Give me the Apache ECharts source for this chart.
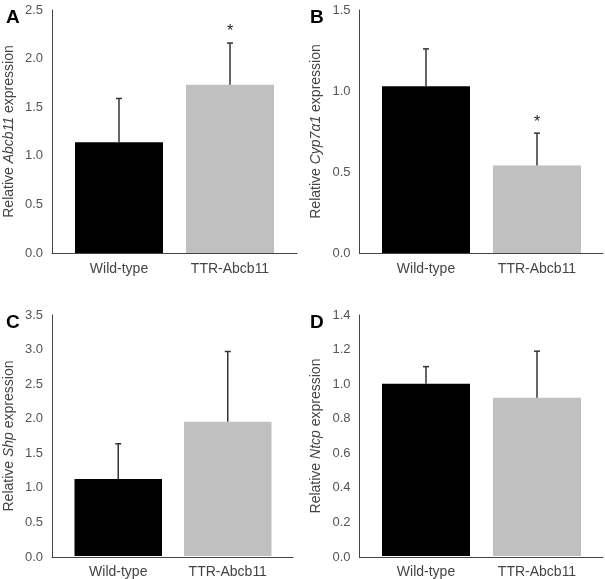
<!DOCTYPE html>
<html>
<head>
<meta charset="utf-8">
<script src="https://cdn.jsdelivr.net/npm/echarts@6/dist/echarts.min.js"></script>
<style>html,body{margin:0;padding:0;background:#fff}#c{width:605px;height:579px}</style>
</head>
<body>
<div id="c"></div>
<script>
// ---- data ----
const categories = ['Wild-type', 'TTR-Abcb11'];
const barColors = ['#000000', '#c0c0c0'];

const abcb11Mean = [1.14, 1.73];
const abcb11Sd   = [0.45, 0.43];
const abcb11Sig  = [false, true];

const cyp7a1Mean = [1.03, 0.54];
const cyp7a1Sd   = [0.23, 0.20];
const cyp7a1Sig  = [false, true];

const shpMean = [1.12, 1.95];
const shpSd   = [0.51, 1.02];
const shpSig  = [false, false];

const ntcpMean = [1.00, 0.92];
const ntcpSd   = [0.10, 0.27];
const ntcpSig  = [false, false];

const panelLetters = ['A', 'B', 'C', 'D'];
const geneNames = ['Abcb11', 'Cyp7α1', 'Shp', 'Ntcp'];
const yMax = [2.5, 1.5, 3.5, 1.4];
const yStep = [0.5, 0.5, 0.5, 0.2];

// ---- layout (pixels) ----
const layout = [
  {x0: 52, x1: 297, top: 10, bottom: 253, inL: 63.5, inW: 222, bw: 88},
  {x0: 359.5, x1: 603, top: 10, bottom: 253, inL: 370.5, inW: 222, bw: 88},
  {x0: 52, x1: 293, top: 315, bottom: 557, inL: 63.5, inW: 219, bw: 87.5},
  {x0: 359.5, x1: 603, top: 315, bottom: 557, inL: 370.5, inW: 222, bw: 88}
];
const textColor = '#444444';
const axisColor = '#444444';
const font = 'Liberation Sans, Arial, sans-serif';

const means = [abcb11Mean, cyp7a1Mean, shpMean, ntcpMean];
const sds = [abcb11Sd, cyp7a1Sd, shpSd, ntcpSd];
const sigs = [abcb11Sig, cyp7a1Sig, shpSig, ntcpSig];

const grid = [], xAxis = [], yAxis = [], series = [], title = [];

layout.forEach((L, p) => {
  const outer = p * 2, inner = p * 2 + 1;
  grid.push({left: L.x0, width: L.x1 - L.x0, top: L.top, height: L.bottom - L.top, containLabel: false});
  grid.push({left: L.inL, width: L.inW, top: L.top, height: L.bottom - L.top, containLabel: false});
  xAxis.push({gridIndex: outer, type: 'value', min: 0, max: 1,
    axisLine: {show: true, onZero: false, lineStyle: {color: axisColor, width: 1}},
    axisTick: {show: false}, axisLabel: {show: false}, splitLine: {show: false}});
  yAxis.push({gridIndex: outer, type: 'value', min: 0, max: yMax[p], interval: yStep[p],
    axisLine: {show: true, lineStyle: {color: axisColor, width: 1}},
    axisTick: {show: false}, splitLine: {show: false},
    axisLabel: {color: '#555555', fontSize: 13, fontFamily: font, margin: 9,
      formatter: v => v.toFixed(1)},
    name: 'Relative {i|' + geneNames[p] + '} expression',
    nameLocation: 'middle', nameGap: 36,
    nameTextStyle: {color: textColor, fontSize: 14, fontFamily: font,
      rich: {i: {fontStyle: 'italic', color: textColor, fontSize: 14, fontFamily: font}}}});
  xAxis.push({gridIndex: inner, type: 'category', data: categories,
    axisLine: {show: false}, axisTick: {show: false}, splitLine: {show: false},
    axisLabel: {color: textColor, fontSize: 14, fontFamily: font, margin: 9}});
  yAxis.push({gridIndex: inner, type: 'value', min: 0, max: yMax[p], interval: yStep[p], show: false});

  series.push({type: 'bar', xAxisIndex: inner, yAxisIndex: inner, barWidth: L.bw,
    data: means[p].map((v, i) => ({value: v, itemStyle: {color: barColors[i]}})),
    animation: false, z: 2});

  series.push({type: 'custom', xAxisIndex: inner, yAxisIndex: inner, z: 3, animation: false,
    encode: {x: 0, y: 1},
    data: means[p].map((v, i) => [i, v, sds[p][i], sigs[p][i] ? 1 : 0]),
    renderItem: (params, api) => {
      const i = api.value(0), m = api.value(1), s = api.value(2), sig = api.value(3);
      const b = api.coord([i, m]);
      const t = api.coord([i, m + s]);
      const children = [
        {type: 'line', shape: {x1: b[0], y1: b[1], x2: t[0], y2: t[1]}, style: {stroke: '#333333', lineWidth: 1.5}},
        {type: 'line', shape: {x1: t[0] - 3, y1: t[1], x2: t[0] + 3, y2: t[1]}, style: {stroke: '#333333', lineWidth: 1.5}}
      ];
      if (sig) {
        children.push({type: 'text', style: {text: '*', x: t[0], y: t[1] - 3, fill: '#222222',
          font: '16px ' + font, textAlign: 'center', textVerticalAlign: 'bottom'}});
      }
      return {type: 'group', children};
    }});

  title.push({text: panelLetters[p], left: p % 2 === 0 ? 1 : 305, top: L.top - 7,
    textStyle: {fontSize: 19, fontWeight: 'bold', color: '#000', fontFamily: font}});
});

const chart = echarts.init(document.getElementById('c'), null, {renderer: 'canvas'});
chart.setOption({animation: false, backgroundColor: '#fff', title, grid, xAxis, yAxis, series});
</script>
</body>
</html>
